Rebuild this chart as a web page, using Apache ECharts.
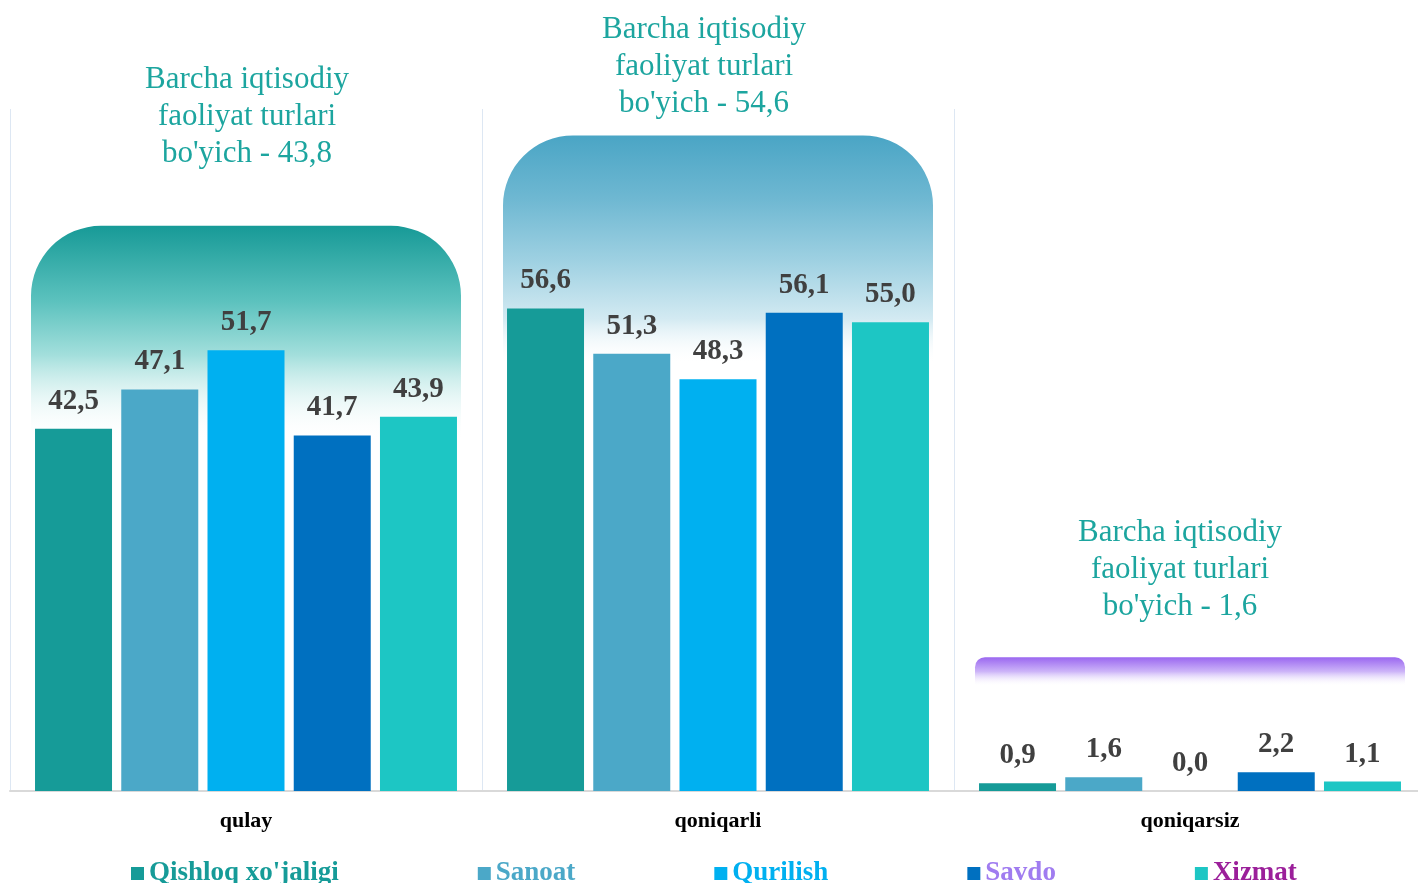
<!DOCTYPE html>
<html>
<head>
<meta charset="utf-8">
<script src="https://cdn.jsdelivr.net/npm/echarts@6/dist/echarts.min.js"></script>
<style>
  html, body { margin: 0; padding: 0; background: #fff; overflow: hidden; }
  #chart { width: 1426px; height: 883px; }
</style>
</head>
<body>
<div id="chart"></div>
<script>
// categories and series
const categories = ['qulay', 'qoniqarli', 'qoniqarsiz'];
const seriesNames = ["Qishloq xo'jaligi", 'Sanoat', 'Qurilish', 'Savdo', 'Xizmat'];
const qishloq = [42.5, 56.6, 0.9];
const sanoat = [47.1, 51.3, 1.6];
const qurilish = [51.7, 48.3, 0.0];
const savdo = [41.7, 56.1, 2.2];
const xizmat = [43.9, 55.0, 1.1];
// "Barcha iqtisodiy faoliyat turlari bo'yich" totals
const totals = [43.8, 54.6, 1.6];
// decorative backdrop: top value and value where it fades out
const bgTop = [66.3, 76.9, 15.7];
const bgFade = [41, 50, 12.3];

const barColors = ['#169b98', '#4ba8c8', '#00b0f0', '#0070c0', '#1dc6c4'];
const legendTextColors = ['#169b98', '#4ba8c8', '#00b0f0', '#a07cf0', '#9b1f9a'];
const bgStops = [
  [[0, '#179a97'], [0.35, '#5cc2be'], [0.6, '#a3dfdc'], [1, 'rgba(255,255,255,0)']],
  [[0, '#4aa5c5'], [0.28, '#6fb8d2'], [0.55, '#9fd1e2'], [0.8, '#d3eaf2'], [1, 'rgba(255,255,255,0)']],
  [[0, '#9a66f0'], [0.5, '#cdb5f8'], [1, 'rgba(255,255,255,0)']]
];
const bgRadius = [70, 70, 10];
const titlePos = [[247, 61], [704, 11], [1180, 514]];

const fmt = v => v.toFixed(1).replace('.', ',');
const serif = '"Liberation Serif", "Times New Roman", serif';

const chart = echarts.init(document.getElementById('chart'));

const dataSets = [qishloq, sanoat, qurilish, savdo, xizmat];
const barSeries = dataSets.map((d, i) => ({
  name: seriesNames[i],
  type: 'bar',
  barWidth: 77,
  barGap: '12%',
  z: 3,
  itemStyle: { color: barColors[i] },
  label: {
    show: true,
    position: 'top',
    distance: 13,
    formatter: p => fmt(p.value),
    color: '#404040',
    fontFamily: serif,
    fontWeight: 'bold',
    fontSize: 29
  },
  data: d
}));

const bgSeries = {
  type: 'custom',
  silent: true,
  z: 1,
  encode: { x: 0, y: 1 },
  data: categories.map((c, i) => [i, bgTop[i], bgFade[i]]),
  renderItem: function (params, api) {
    const i = params.dataIndex;
    const top = api.coord([api.value(0), api.value(1)]);
    const fade = api.coord([api.value(0), api.value(2)]);
    const w = api.size([1, 0])[0] * 0.911;
    const r = bgRadius[i];
    return {
      type: 'rect',
      shape: { x: top[0] - w / 2, y: top[1], width: w, height: fade[1] - top[1], r: [r, r, 0, 0] },
      style: {
        fill: new echarts.graphic.LinearGradient(0, 0, 0, 1,
          bgStops[i].map(s => ({ offset: s[0], color: s[1] })))
      }
    };
  }
};

const option = {
  animation: false,
  backgroundColor: '#fff',
  grid: { left: 10, right: 0, top: 109, bottom: 92 },
  xAxis: {
    type: 'category',
    data: categories,
    axisLine: { lineStyle: { color: '#d9d9d9', width: 2 } },
    axisTick: { show: false },
    axisLabel: {
      color: '#000',
      fontFamily: serif,
      fontWeight: 'bold',
      fontSize: 22,
      margin: 19
    },
    splitLine: { show: true, lineStyle: { color: '#dde7f3', width: 1 } }
  },
  yAxis: {
    type: 'value',
    min: 0,
    max: 80,
    show: false,
    splitLine: { show: false }
  },
  legend: {
    left: 126,
    top: 855,
    itemGap: 139,
    itemWidth: 13,
    itemHeight: 13,
    itemTextGap: 5,
    data: seriesNames.map((n, i) => ({
      name: n,
      icon: 'rect',
      itemStyle: { color: barColors[i] },
      textStyle: {
        color: legendTextColors[i],
        fontFamily: serif,
        fontWeight: 'bold',
        fontSize: 27
      }
    }))
  },
  graphic: totals.map((t, i) => ({
    type: 'text',
    x: titlePos[i][0],
    y: titlePos[i][1],
    silent: true,
    style: {
      text: "Barcha iqtisodiy\nfaoliyat turlari\nbo'yich - " + fmt(t),
      fill: '#1ca59f',
      fontFamily: serif,
      fontSize: 31,
      lineHeight: 37,
      align: 'center',
      verticalAlign: 'top'
    }
  })),
  series: [bgSeries].concat(barSeries)
};

chart.setOption(option);
</script>
</body>
</html>
